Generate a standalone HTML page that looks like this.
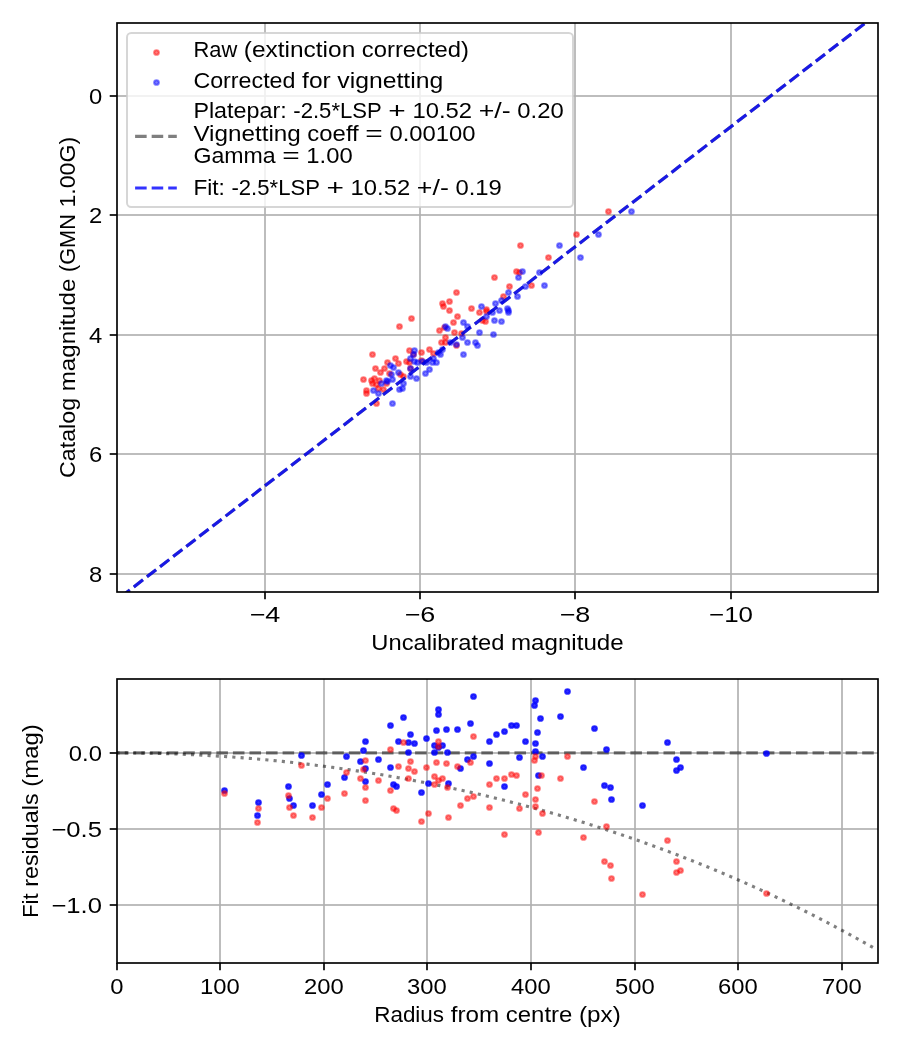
<!DOCTYPE html><html><head><meta charset="utf-8"><style>html,body{margin:0;padding:0;background:#fff;overflow:hidden;width:900px;height:1050px;}svg{display:block;}text{font-family:"Liberation Sans",sans-serif;fill:#000;}svg{will-change:transform;}</style></head><body>
<svg width="900" height="1050" viewBox="0 0 900 1050">
<rect width="900" height="1050" fill="#fff"/>
<defs><clipPath id="ct"><rect x="117.00" y="23.00" width="761.00" height="569.00"/></clipPath>
<clipPath id="cb"><rect x="117.00" y="679.00" width="761.00" height="284.00"/></clipPath></defs>
<line x1="265.00" y1="23.00" x2="265.00" y2="592.00" stroke="#b0b0b0" stroke-width="1.667"/>
<line x1="420.00" y1="23.00" x2="420.00" y2="592.00" stroke="#b0b0b0" stroke-width="1.667"/>
<line x1="575.00" y1="23.00" x2="575.00" y2="592.00" stroke="#b0b0b0" stroke-width="1.667"/>
<line x1="731.00" y1="23.00" x2="731.00" y2="592.00" stroke="#b0b0b0" stroke-width="1.667"/>
<line x1="117.00" y1="96.00" x2="878.00" y2="96.00" stroke="#b0b0b0" stroke-width="2" stroke-opacity="0.8333"/>
<line x1="117.00" y1="215.00" x2="878.00" y2="215.00" stroke="#b0b0b0" stroke-width="2" stroke-opacity="0.8333"/>
<line x1="117.00" y1="335.00" x2="878.00" y2="335.00" stroke="#b0b0b0" stroke-width="2" stroke-opacity="0.8333"/>
<line x1="117.00" y1="454.00" x2="878.00" y2="454.00" stroke="#b0b0b0" stroke-width="2" stroke-opacity="0.8333"/>
<line x1="117.00" y1="574.00" x2="878.00" y2="574.00" stroke="#b0b0b0" stroke-width="2" stroke-opacity="0.8333"/>
<g clip-path="url(#ct)">
<circle cx="411.5" cy="318.5" r="2.33" fill="#ff0000" fill-opacity="0.50" stroke="#ff0000" stroke-opacity="0.50" stroke-width="2.08"/>
<circle cx="399.5" cy="326.5" r="2.33" fill="#ff0000" fill-opacity="0.50" stroke="#ff0000" stroke-opacity="0.50" stroke-width="2.08"/>
<circle cx="442.5" cy="303.5" r="2.33" fill="#ff0000" fill-opacity="0.50" stroke="#ff0000" stroke-opacity="0.50" stroke-width="2.08"/>
<circle cx="449.5" cy="301.5" r="2.33" fill="#ff0000" fill-opacity="0.50" stroke="#ff0000" stroke-opacity="0.50" stroke-width="2.08"/>
<circle cx="443.5" cy="306.5" r="2.33" fill="#ff0000" fill-opacity="0.50" stroke="#ff0000" stroke-opacity="0.50" stroke-width="2.08"/>
<circle cx="449.5" cy="310.5" r="2.33" fill="#ff0000" fill-opacity="0.50" stroke="#ff0000" stroke-opacity="0.50" stroke-width="2.08"/>
<circle cx="457.5" cy="316.5" r="2.33" fill="#ff0000" fill-opacity="0.50" stroke="#ff0000" stroke-opacity="0.50" stroke-width="2.08"/>
<circle cx="453.5" cy="322.5" r="2.33" fill="#ff0000" fill-opacity="0.50" stroke="#ff0000" stroke-opacity="0.50" stroke-width="2.08"/>
<circle cx="439.5" cy="330.5" r="2.33" fill="#ff0000" fill-opacity="0.50" stroke="#ff0000" stroke-opacity="0.50" stroke-width="2.08"/>
<circle cx="454.5" cy="332.5" r="2.33" fill="#ff0000" fill-opacity="0.50" stroke="#ff0000" stroke-opacity="0.50" stroke-width="2.08"/>
<circle cx="445.5" cy="337.5" r="2.33" fill="#ff0000" fill-opacity="0.50" stroke="#ff0000" stroke-opacity="0.50" stroke-width="2.08"/>
<circle cx="441.5" cy="342.5" r="2.33" fill="#ff0000" fill-opacity="0.50" stroke="#ff0000" stroke-opacity="0.50" stroke-width="2.08"/>
<circle cx="445.5" cy="342.5" r="2.33" fill="#ff0000" fill-opacity="0.50" stroke="#ff0000" stroke-opacity="0.50" stroke-width="2.08"/>
<circle cx="456.5" cy="345.5" r="2.33" fill="#ff0000" fill-opacity="0.50" stroke="#ff0000" stroke-opacity="0.50" stroke-width="2.08"/>
<circle cx="429.5" cy="349.5" r="2.33" fill="#ff0000" fill-opacity="0.50" stroke="#ff0000" stroke-opacity="0.50" stroke-width="2.08"/>
<circle cx="421.5" cy="352.5" r="2.33" fill="#ff0000" fill-opacity="0.50" stroke="#ff0000" stroke-opacity="0.50" stroke-width="2.08"/>
<circle cx="409.5" cy="350.5" r="2.33" fill="#ff0000" fill-opacity="0.50" stroke="#ff0000" stroke-opacity="0.50" stroke-width="2.08"/>
<circle cx="372.5" cy="354.5" r="2.33" fill="#ff0000" fill-opacity="0.50" stroke="#ff0000" stroke-opacity="0.50" stroke-width="2.08"/>
<circle cx="395.5" cy="358.5" r="2.33" fill="#ff0000" fill-opacity="0.50" stroke="#ff0000" stroke-opacity="0.50" stroke-width="2.08"/>
<circle cx="398.5" cy="363.5" r="2.33" fill="#ff0000" fill-opacity="0.50" stroke="#ff0000" stroke-opacity="0.50" stroke-width="2.08"/>
<circle cx="387.5" cy="362.5" r="2.33" fill="#ff0000" fill-opacity="0.50" stroke="#ff0000" stroke-opacity="0.50" stroke-width="2.08"/>
<circle cx="406.5" cy="361.5" r="2.33" fill="#ff0000" fill-opacity="0.50" stroke="#ff0000" stroke-opacity="0.50" stroke-width="2.08"/>
<circle cx="409.5" cy="362.5" r="2.33" fill="#ff0000" fill-opacity="0.50" stroke="#ff0000" stroke-opacity="0.50" stroke-width="2.08"/>
<circle cx="375.5" cy="368.5" r="2.33" fill="#ff0000" fill-opacity="0.50" stroke="#ff0000" stroke-opacity="0.50" stroke-width="2.08"/>
<circle cx="384.5" cy="368.5" r="2.33" fill="#ff0000" fill-opacity="0.50" stroke="#ff0000" stroke-opacity="0.50" stroke-width="2.08"/>
<circle cx="380.5" cy="372.5" r="2.33" fill="#ff0000" fill-opacity="0.50" stroke="#ff0000" stroke-opacity="0.50" stroke-width="2.08"/>
<circle cx="389.5" cy="373.5" r="2.33" fill="#ff0000" fill-opacity="0.50" stroke="#ff0000" stroke-opacity="0.50" stroke-width="2.08"/>
<circle cx="400.5" cy="374.5" r="2.33" fill="#ff0000" fill-opacity="0.50" stroke="#ff0000" stroke-opacity="0.50" stroke-width="2.08"/>
<circle cx="363.5" cy="379.5" r="2.33" fill="#ff0000" fill-opacity="0.50" stroke="#ff0000" stroke-opacity="0.50" stroke-width="2.08"/>
<circle cx="371.5" cy="380.5" r="2.33" fill="#ff0000" fill-opacity="0.50" stroke="#ff0000" stroke-opacity="0.50" stroke-width="2.08"/>
<circle cx="374.5" cy="378.5" r="2.33" fill="#ff0000" fill-opacity="0.50" stroke="#ff0000" stroke-opacity="0.50" stroke-width="2.08"/>
<circle cx="379.5" cy="380.5" r="2.33" fill="#ff0000" fill-opacity="0.50" stroke="#ff0000" stroke-opacity="0.50" stroke-width="2.08"/>
<circle cx="386.5" cy="383.5" r="2.33" fill="#ff0000" fill-opacity="0.50" stroke="#ff0000" stroke-opacity="0.50" stroke-width="2.08"/>
<circle cx="376.5" cy="384.5" r="2.33" fill="#ff0000" fill-opacity="0.50" stroke="#ff0000" stroke-opacity="0.50" stroke-width="2.08"/>
<circle cx="366.5" cy="390.5" r="2.33" fill="#ff0000" fill-opacity="0.50" stroke="#ff0000" stroke-opacity="0.50" stroke-width="2.08"/>
<circle cx="366.5" cy="393.5" r="2.33" fill="#ff0000" fill-opacity="0.50" stroke="#ff0000" stroke-opacity="0.50" stroke-width="2.08"/>
<circle cx="378.5" cy="388.5" r="2.33" fill="#ff0000" fill-opacity="0.50" stroke="#ff0000" stroke-opacity="0.50" stroke-width="2.08"/>
<circle cx="383.5" cy="389.5" r="2.33" fill="#ff0000" fill-opacity="0.50" stroke="#ff0000" stroke-opacity="0.50" stroke-width="2.08"/>
<circle cx="376.5" cy="403.5" r="2.33" fill="#ff0000" fill-opacity="0.50" stroke="#ff0000" stroke-opacity="0.50" stroke-width="2.08"/>
<circle cx="413.5" cy="354.5" r="2.33" fill="#ff0000" fill-opacity="0.50" stroke="#ff0000" stroke-opacity="0.50" stroke-width="2.08"/>
<circle cx="520.5" cy="245.5" r="2.33" fill="#ff0000" fill-opacity="0.50" stroke="#ff0000" stroke-opacity="0.50" stroke-width="2.08"/>
<circle cx="548.5" cy="257.5" r="2.33" fill="#ff0000" fill-opacity="0.50" stroke="#ff0000" stroke-opacity="0.50" stroke-width="2.08"/>
<circle cx="516.5" cy="271.5" r="2.33" fill="#ff0000" fill-opacity="0.50" stroke="#ff0000" stroke-opacity="0.50" stroke-width="2.08"/>
<circle cx="519.5" cy="272.5" r="2.33" fill="#ff0000" fill-opacity="0.50" stroke="#ff0000" stroke-opacity="0.50" stroke-width="2.08"/>
<circle cx="494.5" cy="277.5" r="2.33" fill="#ff0000" fill-opacity="0.50" stroke="#ff0000" stroke-opacity="0.50" stroke-width="2.08"/>
<circle cx="509.5" cy="286.5" r="2.33" fill="#ff0000" fill-opacity="0.50" stroke="#ff0000" stroke-opacity="0.50" stroke-width="2.08"/>
<circle cx="531.5" cy="285.5" r="2.33" fill="#ff0000" fill-opacity="0.50" stroke="#ff0000" stroke-opacity="0.50" stroke-width="2.08"/>
<circle cx="456.5" cy="292.5" r="2.33" fill="#ff0000" fill-opacity="0.50" stroke="#ff0000" stroke-opacity="0.50" stroke-width="2.08"/>
<circle cx="503.5" cy="296.5" r="2.33" fill="#ff0000" fill-opacity="0.50" stroke="#ff0000" stroke-opacity="0.50" stroke-width="2.08"/>
<circle cx="471.5" cy="308.5" r="2.33" fill="#ff0000" fill-opacity="0.50" stroke="#ff0000" stroke-opacity="0.50" stroke-width="2.08"/>
<circle cx="479.5" cy="312.5" r="2.33" fill="#ff0000" fill-opacity="0.50" stroke="#ff0000" stroke-opacity="0.50" stroke-width="2.08"/>
<circle cx="486.5" cy="309.5" r="2.33" fill="#ff0000" fill-opacity="0.50" stroke="#ff0000" stroke-opacity="0.50" stroke-width="2.08"/>
<circle cx="482.5" cy="320.5" r="2.33" fill="#ff0000" fill-opacity="0.50" stroke="#ff0000" stroke-opacity="0.50" stroke-width="2.08"/>
<circle cx="485.5" cy="321.5" r="2.33" fill="#ff0000" fill-opacity="0.50" stroke="#ff0000" stroke-opacity="0.50" stroke-width="2.08"/>
<circle cx="608.5" cy="211.5" r="2.33" fill="#ff0000" fill-opacity="0.50" stroke="#ff0000" stroke-opacity="0.50" stroke-width="2.08"/>
<circle cx="576.5" cy="234.5" r="2.33" fill="#ff0000" fill-opacity="0.50" stroke="#ff0000" stroke-opacity="0.50" stroke-width="2.08"/>
<circle cx="372.5" cy="383.5" r="2.33" fill="#ff0000" fill-opacity="0.50" stroke="#ff0000" stroke-opacity="0.50" stroke-width="2.08"/>
<circle cx="403.5" cy="376.5" r="2.33" fill="#ff0000" fill-opacity="0.50" stroke="#ff0000" stroke-opacity="0.50" stroke-width="2.08"/>
<circle cx="433.5" cy="353.5" r="2.33" fill="#ff0000" fill-opacity="0.50" stroke="#ff0000" stroke-opacity="0.50" stroke-width="2.08"/>
<circle cx="421.5" cy="360.5" r="2.33" fill="#ff0000" fill-opacity="0.50" stroke="#ff0000" stroke-opacity="0.50" stroke-width="2.08"/>
<circle cx="410.5" cy="368.5" r="2.33" fill="#ff0000" fill-opacity="0.50" stroke="#ff0000" stroke-opacity="0.50" stroke-width="2.08"/>
<circle cx="444.5" cy="327.5" r="2.33" fill="#ff0000" fill-opacity="0.50" stroke="#ff0000" stroke-opacity="0.50" stroke-width="2.08"/>
<circle cx="461.5" cy="333.5" r="2.33" fill="#ff0000" fill-opacity="0.50" stroke="#ff0000" stroke-opacity="0.50" stroke-width="2.08"/>
<circle cx="486.5" cy="311.5" r="2.33" fill="#ff0000" fill-opacity="0.50" stroke="#ff0000" stroke-opacity="0.50" stroke-width="2.08"/>
<circle cx="445.5" cy="326.5" r="2.33" fill="#0000ff" fill-opacity="0.50" stroke="#0000ff" stroke-opacity="0.50" stroke-width="2.08"/>
<circle cx="447.5" cy="328.5" r="2.33" fill="#0000ff" fill-opacity="0.50" stroke="#0000ff" stroke-opacity="0.50" stroke-width="2.08"/>
<circle cx="456.5" cy="344.5" r="2.33" fill="#0000ff" fill-opacity="0.50" stroke="#0000ff" stroke-opacity="0.50" stroke-width="2.08"/>
<circle cx="450.5" cy="342.5" r="2.33" fill="#0000ff" fill-opacity="0.50" stroke="#0000ff" stroke-opacity="0.50" stroke-width="2.08"/>
<circle cx="442.5" cy="349.5" r="2.33" fill="#0000ff" fill-opacity="0.50" stroke="#0000ff" stroke-opacity="0.50" stroke-width="2.08"/>
<circle cx="438.5" cy="352.5" r="2.33" fill="#0000ff" fill-opacity="0.50" stroke="#0000ff" stroke-opacity="0.50" stroke-width="2.08"/>
<circle cx="440.5" cy="354.5" r="2.33" fill="#0000ff" fill-opacity="0.50" stroke="#0000ff" stroke-opacity="0.50" stroke-width="2.08"/>
<circle cx="436.5" cy="362.5" r="2.33" fill="#0000ff" fill-opacity="0.50" stroke="#0000ff" stroke-opacity="0.50" stroke-width="2.08"/>
<circle cx="432.5" cy="362.5" r="2.33" fill="#0000ff" fill-opacity="0.50" stroke="#0000ff" stroke-opacity="0.50" stroke-width="2.08"/>
<circle cx="433.5" cy="358.5" r="2.33" fill="#0000ff" fill-opacity="0.50" stroke="#0000ff" stroke-opacity="0.50" stroke-width="2.08"/>
<circle cx="426.5" cy="362.5" r="2.33" fill="#0000ff" fill-opacity="0.50" stroke="#0000ff" stroke-opacity="0.50" stroke-width="2.08"/>
<circle cx="429.5" cy="369.5" r="2.33" fill="#0000ff" fill-opacity="0.50" stroke="#0000ff" stroke-opacity="0.50" stroke-width="2.08"/>
<circle cx="425.5" cy="373.5" r="2.33" fill="#0000ff" fill-opacity="0.50" stroke="#0000ff" stroke-opacity="0.50" stroke-width="2.08"/>
<circle cx="414.5" cy="350.5" r="2.33" fill="#0000ff" fill-opacity="0.50" stroke="#0000ff" stroke-opacity="0.50" stroke-width="2.08"/>
<circle cx="413.5" cy="354.5" r="2.33" fill="#0000ff" fill-opacity="0.50" stroke="#0000ff" stroke-opacity="0.50" stroke-width="2.08"/>
<circle cx="410.5" cy="358.5" r="2.33" fill="#0000ff" fill-opacity="0.50" stroke="#0000ff" stroke-opacity="0.50" stroke-width="2.08"/>
<circle cx="414.5" cy="361.5" r="2.33" fill="#0000ff" fill-opacity="0.50" stroke="#0000ff" stroke-opacity="0.50" stroke-width="2.08"/>
<circle cx="417.5" cy="362.5" r="2.33" fill="#0000ff" fill-opacity="0.50" stroke="#0000ff" stroke-opacity="0.50" stroke-width="2.08"/>
<circle cx="422.5" cy="361.5" r="2.33" fill="#0000ff" fill-opacity="0.50" stroke="#0000ff" stroke-opacity="0.50" stroke-width="2.08"/>
<circle cx="410.5" cy="368.5" r="2.33" fill="#0000ff" fill-opacity="0.50" stroke="#0000ff" stroke-opacity="0.50" stroke-width="2.08"/>
<circle cx="410.5" cy="376.5" r="2.33" fill="#0000ff" fill-opacity="0.50" stroke="#0000ff" stroke-opacity="0.50" stroke-width="2.08"/>
<circle cx="416.5" cy="378.5" r="2.33" fill="#0000ff" fill-opacity="0.50" stroke="#0000ff" stroke-opacity="0.50" stroke-width="2.08"/>
<circle cx="390.5" cy="365.5" r="2.33" fill="#0000ff" fill-opacity="0.50" stroke="#0000ff" stroke-opacity="0.50" stroke-width="2.08"/>
<circle cx="393.5" cy="367.5" r="2.33" fill="#0000ff" fill-opacity="0.50" stroke="#0000ff" stroke-opacity="0.50" stroke-width="2.08"/>
<circle cx="398.5" cy="372.5" r="2.33" fill="#0000ff" fill-opacity="0.50" stroke="#0000ff" stroke-opacity="0.50" stroke-width="2.08"/>
<circle cx="391.5" cy="374.5" r="2.33" fill="#0000ff" fill-opacity="0.50" stroke="#0000ff" stroke-opacity="0.50" stroke-width="2.08"/>
<circle cx="392.5" cy="379.5" r="2.33" fill="#0000ff" fill-opacity="0.50" stroke="#0000ff" stroke-opacity="0.50" stroke-width="2.08"/>
<circle cx="386.5" cy="380.5" r="2.33" fill="#0000ff" fill-opacity="0.50" stroke="#0000ff" stroke-opacity="0.50" stroke-width="2.08"/>
<circle cx="381.5" cy="383.5" r="2.33" fill="#0000ff" fill-opacity="0.50" stroke="#0000ff" stroke-opacity="0.50" stroke-width="2.08"/>
<circle cx="403.5" cy="383.5" r="2.33" fill="#0000ff" fill-opacity="0.50" stroke="#0000ff" stroke-opacity="0.50" stroke-width="2.08"/>
<circle cx="399.5" cy="389.5" r="2.33" fill="#0000ff" fill-opacity="0.50" stroke="#0000ff" stroke-opacity="0.50" stroke-width="2.08"/>
<circle cx="402.5" cy="388.5" r="2.33" fill="#0000ff" fill-opacity="0.50" stroke="#0000ff" stroke-opacity="0.50" stroke-width="2.08"/>
<circle cx="373.5" cy="390.5" r="2.33" fill="#0000ff" fill-opacity="0.50" stroke="#0000ff" stroke-opacity="0.50" stroke-width="2.08"/>
<circle cx="378.5" cy="393.5" r="2.33" fill="#0000ff" fill-opacity="0.50" stroke="#0000ff" stroke-opacity="0.50" stroke-width="2.08"/>
<circle cx="392.5" cy="403.5" r="2.33" fill="#0000ff" fill-opacity="0.50" stroke="#0000ff" stroke-opacity="0.50" stroke-width="2.08"/>
<circle cx="559.5" cy="245.5" r="2.33" fill="#0000ff" fill-opacity="0.50" stroke="#0000ff" stroke-opacity="0.50" stroke-width="2.08"/>
<circle cx="522.5" cy="271.5" r="2.33" fill="#0000ff" fill-opacity="0.50" stroke="#0000ff" stroke-opacity="0.50" stroke-width="2.08"/>
<circle cx="518.5" cy="277.5" r="2.33" fill="#0000ff" fill-opacity="0.50" stroke="#0000ff" stroke-opacity="0.50" stroke-width="2.08"/>
<circle cx="539.5" cy="272.5" r="2.33" fill="#0000ff" fill-opacity="0.50" stroke="#0000ff" stroke-opacity="0.50" stroke-width="2.08"/>
<circle cx="544.5" cy="285.5" r="2.33" fill="#0000ff" fill-opacity="0.50" stroke="#0000ff" stroke-opacity="0.50" stroke-width="2.08"/>
<circle cx="525.5" cy="286.5" r="2.33" fill="#0000ff" fill-opacity="0.50" stroke="#0000ff" stroke-opacity="0.50" stroke-width="2.08"/>
<circle cx="508.5" cy="292.5" r="2.33" fill="#0000ff" fill-opacity="0.50" stroke="#0000ff" stroke-opacity="0.50" stroke-width="2.08"/>
<circle cx="517.5" cy="296.5" r="2.33" fill="#0000ff" fill-opacity="0.50" stroke="#0000ff" stroke-opacity="0.50" stroke-width="2.08"/>
<circle cx="501.5" cy="300.5" r="2.33" fill="#0000ff" fill-opacity="0.50" stroke="#0000ff" stroke-opacity="0.50" stroke-width="2.08"/>
<circle cx="495.5" cy="303.5" r="2.33" fill="#0000ff" fill-opacity="0.50" stroke="#0000ff" stroke-opacity="0.50" stroke-width="2.08"/>
<circle cx="481.5" cy="306.5" r="2.33" fill="#0000ff" fill-opacity="0.50" stroke="#0000ff" stroke-opacity="0.50" stroke-width="2.08"/>
<circle cx="499.5" cy="310.5" r="2.33" fill="#0000ff" fill-opacity="0.50" stroke="#0000ff" stroke-opacity="0.50" stroke-width="2.08"/>
<circle cx="507.5" cy="308.5" r="2.33" fill="#0000ff" fill-opacity="0.50" stroke="#0000ff" stroke-opacity="0.50" stroke-width="2.08"/>
<circle cx="508.5" cy="312.5" r="2.33" fill="#0000ff" fill-opacity="0.50" stroke="#0000ff" stroke-opacity="0.50" stroke-width="2.08"/>
<circle cx="492.5" cy="312.5" r="2.33" fill="#0000ff" fill-opacity="0.50" stroke="#0000ff" stroke-opacity="0.50" stroke-width="2.08"/>
<circle cx="486.5" cy="316.5" r="2.33" fill="#0000ff" fill-opacity="0.50" stroke="#0000ff" stroke-opacity="0.50" stroke-width="2.08"/>
<circle cx="494.5" cy="320.5" r="2.33" fill="#0000ff" fill-opacity="0.50" stroke="#0000ff" stroke-opacity="0.50" stroke-width="2.08"/>
<circle cx="501.5" cy="321.5" r="2.33" fill="#0000ff" fill-opacity="0.50" stroke="#0000ff" stroke-opacity="0.50" stroke-width="2.08"/>
<circle cx="463.5" cy="322.5" r="2.33" fill="#0000ff" fill-opacity="0.50" stroke="#0000ff" stroke-opacity="0.50" stroke-width="2.08"/>
<circle cx="467.5" cy="326.5" r="2.33" fill="#0000ff" fill-opacity="0.50" stroke="#0000ff" stroke-opacity="0.50" stroke-width="2.08"/>
<circle cx="479.5" cy="332.5" r="2.33" fill="#0000ff" fill-opacity="0.50" stroke="#0000ff" stroke-opacity="0.50" stroke-width="2.08"/>
<circle cx="493.5" cy="334.5" r="2.33" fill="#0000ff" fill-opacity="0.50" stroke="#0000ff" stroke-opacity="0.50" stroke-width="2.08"/>
<circle cx="462.5" cy="337.5" r="2.33" fill="#0000ff" fill-opacity="0.50" stroke="#0000ff" stroke-opacity="0.50" stroke-width="2.08"/>
<circle cx="631.5" cy="211.5" r="2.33" fill="#0000ff" fill-opacity="0.50" stroke="#0000ff" stroke-opacity="0.50" stroke-width="2.08"/>
<circle cx="598.5" cy="234.5" r="2.33" fill="#0000ff" fill-opacity="0.50" stroke="#0000ff" stroke-opacity="0.50" stroke-width="2.08"/>
<circle cx="580.5" cy="257.5" r="2.33" fill="#0000ff" fill-opacity="0.50" stroke="#0000ff" stroke-opacity="0.50" stroke-width="2.08"/>
<circle cx="467.5" cy="342.5" r="2.33" fill="#0000ff" fill-opacity="0.50" stroke="#0000ff" stroke-opacity="0.50" stroke-width="2.08"/>
<circle cx="475.5" cy="342.5" r="2.33" fill="#0000ff" fill-opacity="0.50" stroke="#0000ff" stroke-opacity="0.50" stroke-width="2.08"/>
<circle cx="477.5" cy="345.5" r="2.33" fill="#0000ff" fill-opacity="0.50" stroke="#0000ff" stroke-opacity="0.50" stroke-width="2.08"/>
<circle cx="463.5" cy="354.5" r="2.33" fill="#0000ff" fill-opacity="0.50" stroke="#0000ff" stroke-opacity="0.50" stroke-width="2.08"/>
<circle cx="387.5" cy="381.5" r="2.33" fill="#0000ff" fill-opacity="0.50" stroke="#0000ff" stroke-opacity="0.50" stroke-width="2.08"/>
<circle cx="508.5" cy="310.5" r="2.33" fill="#0000ff" fill-opacity="0.50" stroke="#0000ff" stroke-opacity="0.50" stroke-width="2.08"/>
<line x1="94.46" y1="617.23" x2="924.32" y2="-22.41" stroke="#000" stroke-opacity="0.5" stroke-width="3.125" stroke-dasharray="11.56 5"/>
<line x1="94.46" y1="617.23" x2="924.32" y2="-22.41" stroke="#0000ff" stroke-opacity="0.8" stroke-width="3.125" stroke-dasharray="11.56 5"/>
</g>
<rect x="117.00" y="23.00" width="761.00" height="569.00" fill="none" stroke="#000" stroke-width="1.667" stroke-linejoin="miter"/>
<line x1="265.00" y1="592.00" x2="265.00" y2="599.29" stroke="#000" stroke-width="1.667"/>
<text x="249.65" y="621.60" font-size="21.80" textLength="30.71" lengthAdjust="spacingAndGlyphs">&#8722;4</text>
<line x1="420.00" y1="592.00" x2="420.00" y2="599.29" stroke="#000" stroke-width="1.667"/>
<text x="404.65" y="621.60" font-size="21.80" textLength="30.71" lengthAdjust="spacingAndGlyphs">&#8722;6</text>
<line x1="575.00" y1="592.00" x2="575.00" y2="599.29" stroke="#000" stroke-width="1.667"/>
<text x="559.65" y="621.60" font-size="21.80" textLength="30.71" lengthAdjust="spacingAndGlyphs">&#8722;8</text>
<line x1="731.00" y1="592.00" x2="731.00" y2="599.29" stroke="#000" stroke-width="1.667"/>
<text x="709.02" y="621.60" font-size="21.80" textLength="43.96" lengthAdjust="spacingAndGlyphs">&#8722;10</text>
<line x1="109.71" y1="96.00" x2="117.00" y2="96.00" stroke="#000" stroke-width="2" stroke-opacity="0.8333"/>
<text x="88.95" y="103.60" font-size="21.80" textLength="13.25" lengthAdjust="spacingAndGlyphs">0</text>
<line x1="109.71" y1="215.00" x2="117.00" y2="215.00" stroke="#000" stroke-width="2" stroke-opacity="0.8333"/>
<text x="88.95" y="222.60" font-size="21.80" textLength="13.25" lengthAdjust="spacingAndGlyphs">2</text>
<line x1="109.71" y1="335.00" x2="117.00" y2="335.00" stroke="#000" stroke-width="2" stroke-opacity="0.8333"/>
<text x="88.95" y="342.60" font-size="21.80" textLength="13.25" lengthAdjust="spacingAndGlyphs">4</text>
<line x1="109.71" y1="454.00" x2="117.00" y2="454.00" stroke="#000" stroke-width="2" stroke-opacity="0.8333"/>
<text x="88.95" y="461.60" font-size="21.80" textLength="13.25" lengthAdjust="spacingAndGlyphs">6</text>
<line x1="109.71" y1="574.00" x2="117.00" y2="574.00" stroke="#000" stroke-width="2" stroke-opacity="0.8333"/>
<text x="88.95" y="581.60" font-size="21.80" textLength="13.25" lengthAdjust="spacingAndGlyphs">8</text>
<text x="371.36" y="649.60" font-size="21.80" textLength="132.99" lengthAdjust="spacingAndGlyphs">Uncalibrated</text>
<text x="510.97" y="649.60" font-size="21.80" textLength="112.67" lengthAdjust="spacingAndGlyphs">magnitude</text>
<g transform="translate(74.90,477.90) rotate(-90)">
<text x="0.00" y="0" font-size="21.80" textLength="79.99" lengthAdjust="spacingAndGlyphs">Catalog</text>
<text x="86.62" y="0" font-size="21.80" textLength="112.67" lengthAdjust="spacingAndGlyphs">magnitude</text>
<text x="205.91" y="0" font-size="21.80" textLength="57.82" lengthAdjust="spacingAndGlyphs">(GMN</text>
<text x="270.35" y="0" font-size="21.80" textLength="70.65" lengthAdjust="spacingAndGlyphs">1.00G)</text>
</g>
<rect x="127" y="33" width="446" height="174" rx="4.17" ry="4.17" fill="#fff" fill-opacity="0.8" stroke="#cccccc" stroke-opacity="0.8" stroke-width="2.0"/>
<circle cx="156.5" cy="52.5" r="2.33" fill="#ff0000" fill-opacity="0.50" stroke="#ff0000" stroke-opacity="0.50" stroke-width="2.08"/>
<circle cx="156.5" cy="82.5" r="2.33" fill="#0000ff" fill-opacity="0.50" stroke="#0000ff" stroke-opacity="0.50" stroke-width="2.08"/>
<line x1="135.1" y1="136.4" x2="176.8" y2="136.4" stroke="#000" stroke-opacity="0.5" stroke-width="3.125" stroke-dasharray="11.56 5"/>
<line x1="135.1" y1="188" x2="176.8" y2="188" stroke="#0000ff" stroke-opacity="0.8" stroke-width="3.125" stroke-dasharray="11.56 5"/>
<text x="193.40" y="57.00" font-size="21.80" textLength="43.82" lengthAdjust="spacingAndGlyphs">Raw</text>
<text x="243.84" y="57.00" font-size="21.80" textLength="111.41" lengthAdjust="spacingAndGlyphs">(extinction</text>
<text x="361.87" y="57.00" font-size="21.80" textLength="107.10" lengthAdjust="spacingAndGlyphs">corrected)</text>
<text x="193.40" y="87.60" font-size="21.80" textLength="102.06" lengthAdjust="spacingAndGlyphs">Corrected</text>
<text x="302.09" y="87.60" font-size="21.80" textLength="28.64" lengthAdjust="spacingAndGlyphs">for</text>
<text x="337.35" y="87.60" font-size="21.80" textLength="105.90" lengthAdjust="spacingAndGlyphs">vignetting</text>
<text x="193.40" y="117.80" font-size="21.80" textLength="93.30" lengthAdjust="spacingAndGlyphs">Platepar:</text>
<text x="293.32" y="117.80" font-size="21.80" textLength="88.45" lengthAdjust="spacingAndGlyphs">-2.5*LSP</text>
<text x="388.39" y="117.80" font-size="21.80" textLength="17.45" lengthAdjust="spacingAndGlyphs">+</text>
<text x="412.46" y="117.80" font-size="21.80" textLength="59.63" lengthAdjust="spacingAndGlyphs">10.52</text>
<text x="478.71" y="117.80" font-size="21.80" textLength="31.99" lengthAdjust="spacingAndGlyphs">+/-</text>
<text x="517.32" y="117.80" font-size="21.80" textLength="46.38" lengthAdjust="spacingAndGlyphs">0.20</text>
<text x="193.40" y="140.50" font-size="21.80" textLength="107.36" lengthAdjust="spacingAndGlyphs">Vignetting</text>
<text x="307.39" y="140.50" font-size="21.80" textLength="51.36" lengthAdjust="spacingAndGlyphs">coeff</text>
<text x="365.37" y="140.50" font-size="21.80" textLength="17.45" lengthAdjust="spacingAndGlyphs">=</text>
<text x="389.44" y="140.50" font-size="21.80" textLength="86.14" lengthAdjust="spacingAndGlyphs">0.00100</text>
<text x="193.40" y="163.00" font-size="21.80" textLength="82.25" lengthAdjust="spacingAndGlyphs">Gamma</text>
<text x="282.27" y="163.00" font-size="21.80" textLength="17.45" lengthAdjust="spacingAndGlyphs">=</text>
<text x="306.35" y="163.00" font-size="21.80" textLength="46.38" lengthAdjust="spacingAndGlyphs">1.00</text>
<text x="193.40" y="194.50" font-size="21.80" textLength="31.44" lengthAdjust="spacingAndGlyphs">Fit:</text>
<text x="231.46" y="194.50" font-size="21.80" textLength="88.45" lengthAdjust="spacingAndGlyphs">-2.5*LSP</text>
<text x="326.53" y="194.50" font-size="21.80" textLength="17.45" lengthAdjust="spacingAndGlyphs">+</text>
<text x="350.60" y="194.50" font-size="21.80" textLength="59.63" lengthAdjust="spacingAndGlyphs">10.52</text>
<text x="416.85" y="194.50" font-size="21.80" textLength="31.99" lengthAdjust="spacingAndGlyphs">+/-</text>
<text x="455.46" y="194.50" font-size="21.80" textLength="46.38" lengthAdjust="spacingAndGlyphs">0.19</text>
<line x1="220.00" y1="679.00" x2="220.00" y2="963.00" stroke="#b0b0b0" stroke-width="1.667"/>
<line x1="324.00" y1="679.00" x2="324.00" y2="963.00" stroke="#b0b0b0" stroke-width="1.667"/>
<line x1="427.00" y1="679.00" x2="427.00" y2="963.00" stroke="#b0b0b0" stroke-width="1.667"/>
<line x1="531.00" y1="679.00" x2="531.00" y2="963.00" stroke="#b0b0b0" stroke-width="1.667"/>
<line x1="635.00" y1="679.00" x2="635.00" y2="963.00" stroke="#b0b0b0" stroke-width="1.667"/>
<line x1="738.00" y1="679.00" x2="738.00" y2="963.00" stroke="#b0b0b0" stroke-width="1.667"/>
<line x1="842.00" y1="679.00" x2="842.00" y2="963.00" stroke="#b0b0b0" stroke-width="1.667"/>
<line x1="117.00" y1="753.00" x2="878.00" y2="753.00" stroke="#b0b0b0" stroke-width="2" stroke-opacity="0.8333"/>
<line x1="117.00" y1="829.00" x2="878.00" y2="829.00" stroke="#b0b0b0" stroke-width="2" stroke-opacity="0.8333"/>
<line x1="117.00" y1="905.00" x2="878.00" y2="905.00" stroke="#b0b0b0" stroke-width="2" stroke-opacity="0.8333"/>
<g clip-path="url(#cb)">
<line x1="117.00" y1="752.90" x2="878.00" y2="752.90" stroke="#000" stroke-opacity="0.5" stroke-width="3.125" stroke-dasharray="11.56 5"/>
<polyline points="116.60,752.90 118.67,752.90 120.75,752.91 122.82,752.91 124.89,752.92 126.96,752.93 129.04,752.95 131.11,752.96 133.18,752.98 135.25,753.01 137.33,753.03 139.40,753.06 141.47,753.09 143.54,753.12 145.62,753.16 147.69,753.20 149.76,753.24 151.83,753.28 153.91,753.33 155.98,753.38 158.05,753.43 160.12,753.48 162.20,753.54 164.27,753.60 166.34,753.66 168.41,753.73 170.49,753.80 172.56,753.87 174.63,753.94 176.70,754.01 178.78,754.09 180.85,754.17 182.92,754.26 185.00,754.34 187.07,754.43 189.14,754.52 191.21,754.62 193.29,754.71 195.36,754.81 197.43,754.92 199.50,755.02 201.58,755.13 203.65,755.24 205.72,755.35 207.79,755.47 209.87,755.58 211.94,755.70 214.01,755.83 216.08,755.95 218.16,756.08 220.23,756.21 222.30,756.35 224.37,756.49 226.45,756.63 228.52,756.77 230.59,756.91 232.66,757.06 234.74,757.21 236.81,757.36 238.88,757.52 240.95,757.68 243.03,757.84 245.10,758.00 247.17,758.17 249.25,758.34 251.32,758.51 253.39,758.68 255.46,758.86 257.54,759.04 259.61,759.22 261.68,759.41 263.75,759.60 265.83,759.79 267.90,759.98 269.97,760.18 272.04,760.37 274.12,760.58 276.19,760.78 278.26,760.99 280.33,761.20 282.41,761.41 284.48,761.62 286.55,761.84 288.62,762.06 290.70,762.28 292.77,762.51 294.84,762.74 296.91,762.97 298.99,763.20 301.06,763.44 303.13,763.68 305.20,763.92 307.28,764.17 309.35,764.42 311.42,764.67 313.50,764.92 315.57,765.18 317.64,765.43 319.71,765.70 321.79,765.96 323.86,766.23 325.93,766.50 328.00,766.77 330.08,767.04 332.15,767.32 334.22,767.60 336.29,767.89 338.37,768.17 340.44,768.46 342.51,768.75 344.58,769.05 346.66,769.35 348.73,769.65 350.80,769.95 352.87,770.25 354.95,770.56 357.02,770.87 359.09,771.19 361.16,771.51 363.24,771.83 365.31,772.15 367.38,772.47 369.45,772.80 371.53,773.13 373.60,773.47 375.67,773.80 377.75,774.14 379.82,774.48 381.89,774.83 383.96,775.18 386.04,775.53 388.11,775.88 390.18,776.24 392.25,776.60 394.33,776.96 396.40,777.32 398.47,777.69 400.54,778.06 402.62,778.44 404.69,778.81 406.76,779.19 408.83,779.57 410.91,779.96 412.98,780.35 415.05,780.74 417.12,781.13 419.20,781.53 421.27,781.93 423.34,782.33 425.41,782.73 427.49,783.14 429.56,783.55 431.63,783.97 433.70,784.38 435.78,784.80 437.85,785.23 439.92,785.65 442.00,786.08 444.07,786.51 446.14,786.94 448.21,787.38 450.29,787.82 452.36,788.27 454.43,788.71 456.50,789.16 458.58,789.61 460.65,790.07 462.72,790.53 464.79,790.99 466.87,791.45 468.94,791.92 471.01,792.39 473.08,792.86 475.16,793.33 477.23,793.81 479.30,794.29 481.37,794.78 483.45,795.27 485.52,795.76 487.59,796.25 489.66,796.75 491.74,797.25 493.81,797.75 495.88,798.26 497.95,798.77 500.03,799.28 502.10,799.79 504.17,800.31 506.25,800.83 508.32,801.36 510.39,801.88 512.46,802.41 514.54,802.95 516.61,803.48 518.68,804.02 520.75,804.57 522.83,805.11 524.90,805.66 526.97,806.21 529.04,806.77 531.12,807.32 533.19,807.89 535.26,808.45 537.33,809.02 539.41,809.59 541.48,810.16 543.55,810.74 545.62,811.32 547.70,811.90 549.77,812.49 551.84,813.08 553.91,813.67 555.99,814.27 558.06,814.87 560.13,815.47 562.20,816.07 564.28,816.68 566.35,817.29 568.42,817.91 570.50,818.53 572.57,819.15 574.64,819.77 576.71,820.40 578.79,821.03 580.86,821.67 582.93,822.31 585.00,822.95 587.08,823.59 589.15,824.24 591.22,824.89 593.29,825.54 595.37,826.20 597.44,826.86 599.51,827.53 601.58,828.19 603.66,828.86 605.73,829.54 607.80,830.22 609.87,830.90 611.95,831.58 614.02,832.27 616.09,832.96 618.16,833.65 620.24,834.35 622.31,835.05 624.38,835.76 626.45,836.46 628.53,837.18 630.60,837.89 632.67,838.61 634.75,839.33 636.82,840.05 638.89,840.78 640.96,841.51 643.04,842.25 645.11,842.99 647.18,843.73 649.25,844.48 651.33,845.23 653.40,845.98 655.47,846.73 657.54,847.49 659.62,848.26 661.69,849.02 663.76,849.79 665.83,850.57 667.91,851.34 669.98,852.13 672.05,852.91 674.12,853.70 676.20,854.49 678.27,855.29 680.34,856.08 682.41,856.89 684.49,857.69 686.56,858.50 688.63,859.32 690.70,860.13 692.78,860.95 694.85,861.78 696.92,862.61 698.99,863.44 701.07,864.27 703.14,865.11 705.21,865.96 707.29,866.80 709.36,867.65 711.43,868.51 713.50,869.36 715.58,870.23 717.65,871.09 719.72,871.96 721.79,872.83 723.87,873.71 725.94,874.59 728.01,875.48 730.08,876.36 732.16,877.26 734.23,878.15 736.30,879.05 738.37,879.95 740.45,880.86 742.52,881.77 744.59,882.69 746.66,883.61 748.74,884.53 750.81,885.46 752.88,886.39 754.95,887.33 757.03,888.26 759.10,889.21 761.17,890.15 763.24,891.11 765.32,892.06 767.39,893.02 769.46,893.98 771.54,894.95 773.61,895.92 775.68,896.90 777.75,897.88 779.83,898.86 781.90,899.85 783.97,900.84 786.04,901.83 788.12,902.83 790.19,903.84 792.26,904.85 794.33,905.86 796.41,906.88 798.48,907.90 800.55,908.92 802.62,909.95 804.70,910.99 806.77,912.02 808.84,913.07 810.91,914.11 812.99,915.16 815.06,916.22 817.13,917.28 819.20,918.34 821.28,919.41 823.35,920.48 825.42,921.56 827.49,922.64 829.57,923.73 831.64,924.82 833.71,925.91 835.79,927.01 837.86,928.12 839.93,929.22 842.00,930.34 844.08,931.45 846.15,932.58 848.22,933.70 850.29,934.83 852.37,935.97 854.44,937.11 856.51,938.25 858.58,939.40 860.66,940.56 862.73,941.72 864.80,942.88 866.87,944.05 868.95,945.22 871.02,946.40 873.09,947.58 875.16,948.77 877.24,949.96" fill="none" stroke="#000" stroke-opacity="0.5" stroke-width="3.125" stroke-dasharray="3.125 5.156" stroke-dashoffset="0.13"/>
<circle cx="301.5" cy="755.5" r="2.33" fill="#0000ff" fill-opacity="0.80" stroke="#0000ff" stroke-opacity="0.80" stroke-width="2.08"/>
<circle cx="224.5" cy="790.5" r="2.33" fill="#0000ff" fill-opacity="0.80" stroke="#0000ff" stroke-opacity="0.80" stroke-width="2.08"/>
<circle cx="258.5" cy="802.5" r="2.33" fill="#0000ff" fill-opacity="0.80" stroke="#0000ff" stroke-opacity="0.80" stroke-width="2.08"/>
<circle cx="257.5" cy="815.5" r="2.33" fill="#0000ff" fill-opacity="0.80" stroke="#0000ff" stroke-opacity="0.80" stroke-width="2.08"/>
<circle cx="288.5" cy="786.5" r="2.33" fill="#0000ff" fill-opacity="0.80" stroke="#0000ff" stroke-opacity="0.80" stroke-width="2.08"/>
<circle cx="289.5" cy="798.5" r="2.33" fill="#0000ff" fill-opacity="0.80" stroke="#0000ff" stroke-opacity="0.80" stroke-width="2.08"/>
<circle cx="293.5" cy="805.5" r="2.33" fill="#0000ff" fill-opacity="0.80" stroke="#0000ff" stroke-opacity="0.80" stroke-width="2.08"/>
<circle cx="312.5" cy="805.5" r="2.33" fill="#0000ff" fill-opacity="0.80" stroke="#0000ff" stroke-opacity="0.80" stroke-width="2.08"/>
<circle cx="403.5" cy="717.5" r="2.33" fill="#0000ff" fill-opacity="0.80" stroke="#0000ff" stroke-opacity="0.80" stroke-width="2.08"/>
<circle cx="390.5" cy="725.5" r="2.33" fill="#0000ff" fill-opacity="0.80" stroke="#0000ff" stroke-opacity="0.80" stroke-width="2.08"/>
<circle cx="410.5" cy="734.5" r="2.33" fill="#0000ff" fill-opacity="0.80" stroke="#0000ff" stroke-opacity="0.80" stroke-width="2.08"/>
<circle cx="426.5" cy="738.5" r="2.33" fill="#0000ff" fill-opacity="0.80" stroke="#0000ff" stroke-opacity="0.80" stroke-width="2.08"/>
<circle cx="365.5" cy="741.5" r="2.33" fill="#0000ff" fill-opacity="0.80" stroke="#0000ff" stroke-opacity="0.80" stroke-width="2.08"/>
<circle cx="398.5" cy="741.5" r="2.33" fill="#0000ff" fill-opacity="0.80" stroke="#0000ff" stroke-opacity="0.80" stroke-width="2.08"/>
<circle cx="408.5" cy="742.5" r="2.33" fill="#0000ff" fill-opacity="0.80" stroke="#0000ff" stroke-opacity="0.80" stroke-width="2.08"/>
<circle cx="414.5" cy="743.5" r="2.33" fill="#0000ff" fill-opacity="0.80" stroke="#0000ff" stroke-opacity="0.80" stroke-width="2.08"/>
<circle cx="363.5" cy="750.5" r="2.33" fill="#0000ff" fill-opacity="0.80" stroke="#0000ff" stroke-opacity="0.80" stroke-width="2.08"/>
<circle cx="408.5" cy="752.5" r="2.33" fill="#0000ff" fill-opacity="0.80" stroke="#0000ff" stroke-opacity="0.80" stroke-width="2.08"/>
<circle cx="346.5" cy="756.5" r="2.33" fill="#0000ff" fill-opacity="0.80" stroke="#0000ff" stroke-opacity="0.80" stroke-width="2.08"/>
<circle cx="360.5" cy="761.5" r="2.33" fill="#0000ff" fill-opacity="0.80" stroke="#0000ff" stroke-opacity="0.80" stroke-width="2.08"/>
<circle cx="378.5" cy="759.5" r="2.33" fill="#0000ff" fill-opacity="0.80" stroke="#0000ff" stroke-opacity="0.80" stroke-width="2.08"/>
<circle cx="390.5" cy="767.5" r="2.33" fill="#0000ff" fill-opacity="0.80" stroke="#0000ff" stroke-opacity="0.80" stroke-width="2.08"/>
<circle cx="365.5" cy="768.5" r="2.33" fill="#0000ff" fill-opacity="0.80" stroke="#0000ff" stroke-opacity="0.80" stroke-width="2.08"/>
<circle cx="344.5" cy="777.5" r="2.33" fill="#0000ff" fill-opacity="0.80" stroke="#0000ff" stroke-opacity="0.80" stroke-width="2.08"/>
<circle cx="365.5" cy="781.5" r="2.33" fill="#0000ff" fill-opacity="0.80" stroke="#0000ff" stroke-opacity="0.80" stroke-width="2.08"/>
<circle cx="327.5" cy="784.5" r="2.33" fill="#0000ff" fill-opacity="0.80" stroke="#0000ff" stroke-opacity="0.80" stroke-width="2.08"/>
<circle cx="321.5" cy="794.5" r="2.33" fill="#0000ff" fill-opacity="0.80" stroke="#0000ff" stroke-opacity="0.80" stroke-width="2.08"/>
<circle cx="393.5" cy="784.5" r="2.33" fill="#0000ff" fill-opacity="0.80" stroke="#0000ff" stroke-opacity="0.80" stroke-width="2.08"/>
<circle cx="396.5" cy="786.5" r="2.33" fill="#0000ff" fill-opacity="0.80" stroke="#0000ff" stroke-opacity="0.80" stroke-width="2.08"/>
<circle cx="421.5" cy="792.5" r="2.33" fill="#0000ff" fill-opacity="0.80" stroke="#0000ff" stroke-opacity="0.80" stroke-width="2.08"/>
<circle cx="428.5" cy="783.5" r="2.33" fill="#0000ff" fill-opacity="0.80" stroke="#0000ff" stroke-opacity="0.80" stroke-width="2.08"/>
<circle cx="473.5" cy="696.5" r="2.33" fill="#0000ff" fill-opacity="0.80" stroke="#0000ff" stroke-opacity="0.80" stroke-width="2.08"/>
<circle cx="438.5" cy="709.5" r="2.33" fill="#0000ff" fill-opacity="0.80" stroke="#0000ff" stroke-opacity="0.80" stroke-width="2.08"/>
<circle cx="438.5" cy="714.5" r="2.33" fill="#0000ff" fill-opacity="0.80" stroke="#0000ff" stroke-opacity="0.80" stroke-width="2.08"/>
<circle cx="470.5" cy="723.5" r="2.33" fill="#0000ff" fill-opacity="0.80" stroke="#0000ff" stroke-opacity="0.80" stroke-width="2.08"/>
<circle cx="436.5" cy="730.5" r="2.33" fill="#0000ff" fill-opacity="0.80" stroke="#0000ff" stroke-opacity="0.80" stroke-width="2.08"/>
<circle cx="446.5" cy="729.5" r="2.33" fill="#0000ff" fill-opacity="0.80" stroke="#0000ff" stroke-opacity="0.80" stroke-width="2.08"/>
<circle cx="457.5" cy="729.5" r="2.33" fill="#0000ff" fill-opacity="0.80" stroke="#0000ff" stroke-opacity="0.80" stroke-width="2.08"/>
<circle cx="434.5" cy="745.5" r="2.33" fill="#0000ff" fill-opacity="0.80" stroke="#0000ff" stroke-opacity="0.80" stroke-width="2.08"/>
<circle cx="438.5" cy="747.5" r="2.33" fill="#0000ff" fill-opacity="0.80" stroke="#0000ff" stroke-opacity="0.80" stroke-width="2.08"/>
<circle cx="442.5" cy="745.5" r="2.33" fill="#0000ff" fill-opacity="0.80" stroke="#0000ff" stroke-opacity="0.80" stroke-width="2.08"/>
<circle cx="434.5" cy="752.5" r="2.33" fill="#0000ff" fill-opacity="0.80" stroke="#0000ff" stroke-opacity="0.80" stroke-width="2.08"/>
<circle cx="447.5" cy="752.5" r="2.33" fill="#0000ff" fill-opacity="0.80" stroke="#0000ff" stroke-opacity="0.80" stroke-width="2.08"/>
<circle cx="467.5" cy="759.5" r="2.33" fill="#0000ff" fill-opacity="0.80" stroke="#0000ff" stroke-opacity="0.80" stroke-width="2.08"/>
<circle cx="473.5" cy="756.5" r="2.33" fill="#0000ff" fill-opacity="0.80" stroke="#0000ff" stroke-opacity="0.80" stroke-width="2.08"/>
<circle cx="460.5" cy="768.5" r="2.33" fill="#0000ff" fill-opacity="0.80" stroke="#0000ff" stroke-opacity="0.80" stroke-width="2.08"/>
<circle cx="489.5" cy="741.5" r="2.33" fill="#0000ff" fill-opacity="0.80" stroke="#0000ff" stroke-opacity="0.80" stroke-width="2.08"/>
<circle cx="496.5" cy="734.5" r="2.33" fill="#0000ff" fill-opacity="0.80" stroke="#0000ff" stroke-opacity="0.80" stroke-width="2.08"/>
<circle cx="504.5" cy="731.5" r="2.33" fill="#0000ff" fill-opacity="0.80" stroke="#0000ff" stroke-opacity="0.80" stroke-width="2.08"/>
<circle cx="511.5" cy="725.5" r="2.33" fill="#0000ff" fill-opacity="0.80" stroke="#0000ff" stroke-opacity="0.80" stroke-width="2.08"/>
<circle cx="516.5" cy="725.5" r="2.33" fill="#0000ff" fill-opacity="0.80" stroke="#0000ff" stroke-opacity="0.80" stroke-width="2.08"/>
<circle cx="525.5" cy="741.5" r="2.33" fill="#0000ff" fill-opacity="0.80" stroke="#0000ff" stroke-opacity="0.80" stroke-width="2.08"/>
<circle cx="489.5" cy="763.5" r="2.33" fill="#0000ff" fill-opacity="0.80" stroke="#0000ff" stroke-opacity="0.80" stroke-width="2.08"/>
<circle cx="519.5" cy="757.5" r="2.33" fill="#0000ff" fill-opacity="0.80" stroke="#0000ff" stroke-opacity="0.80" stroke-width="2.08"/>
<circle cx="535.5" cy="700.5" r="2.33" fill="#0000ff" fill-opacity="0.80" stroke="#0000ff" stroke-opacity="0.80" stroke-width="2.08"/>
<circle cx="534.5" cy="705.5" r="2.33" fill="#0000ff" fill-opacity="0.80" stroke="#0000ff" stroke-opacity="0.80" stroke-width="2.08"/>
<circle cx="540.5" cy="718.5" r="2.33" fill="#0000ff" fill-opacity="0.80" stroke="#0000ff" stroke-opacity="0.80" stroke-width="2.08"/>
<circle cx="537.5" cy="732.5" r="2.33" fill="#0000ff" fill-opacity="0.80" stroke="#0000ff" stroke-opacity="0.80" stroke-width="2.08"/>
<circle cx="535.5" cy="743.5" r="2.33" fill="#0000ff" fill-opacity="0.80" stroke="#0000ff" stroke-opacity="0.80" stroke-width="2.08"/>
<circle cx="535.5" cy="751.5" r="2.33" fill="#0000ff" fill-opacity="0.80" stroke="#0000ff" stroke-opacity="0.80" stroke-width="2.08"/>
<circle cx="538.5" cy="775.5" r="2.33" fill="#0000ff" fill-opacity="0.80" stroke="#0000ff" stroke-opacity="0.80" stroke-width="2.08"/>
<circle cx="448.5" cy="783.5" r="2.33" fill="#0000ff" fill-opacity="0.80" stroke="#0000ff" stroke-opacity="0.80" stroke-width="2.08"/>
<circle cx="504.5" cy="786.5" r="2.33" fill="#0000ff" fill-opacity="0.80" stroke="#0000ff" stroke-opacity="0.80" stroke-width="2.08"/>
<circle cx="567.5" cy="691.5" r="2.33" fill="#0000ff" fill-opacity="0.80" stroke="#0000ff" stroke-opacity="0.80" stroke-width="2.08"/>
<circle cx="560.5" cy="716.5" r="2.33" fill="#0000ff" fill-opacity="0.80" stroke="#0000ff" stroke-opacity="0.80" stroke-width="2.08"/>
<circle cx="594.5" cy="728.5" r="2.33" fill="#0000ff" fill-opacity="0.80" stroke="#0000ff" stroke-opacity="0.80" stroke-width="2.08"/>
<circle cx="606.5" cy="749.5" r="2.33" fill="#0000ff" fill-opacity="0.80" stroke="#0000ff" stroke-opacity="0.80" stroke-width="2.08"/>
<circle cx="542.5" cy="756.5" r="2.33" fill="#0000ff" fill-opacity="0.80" stroke="#0000ff" stroke-opacity="0.80" stroke-width="2.08"/>
<circle cx="583.5" cy="767.5" r="2.33" fill="#0000ff" fill-opacity="0.80" stroke="#0000ff" stroke-opacity="0.80" stroke-width="2.08"/>
<circle cx="604.5" cy="785.5" r="2.33" fill="#0000ff" fill-opacity="0.80" stroke="#0000ff" stroke-opacity="0.80" stroke-width="2.08"/>
<circle cx="610.5" cy="787.5" r="2.33" fill="#0000ff" fill-opacity="0.80" stroke="#0000ff" stroke-opacity="0.80" stroke-width="2.08"/>
<circle cx="611.5" cy="799.5" r="2.33" fill="#0000ff" fill-opacity="0.80" stroke="#0000ff" stroke-opacity="0.80" stroke-width="2.08"/>
<circle cx="642.5" cy="805.5" r="2.33" fill="#0000ff" fill-opacity="0.80" stroke="#0000ff" stroke-opacity="0.80" stroke-width="2.08"/>
<circle cx="667.5" cy="742.5" r="2.33" fill="#0000ff" fill-opacity="0.80" stroke="#0000ff" stroke-opacity="0.80" stroke-width="2.08"/>
<circle cx="676.5" cy="759.5" r="2.33" fill="#0000ff" fill-opacity="0.80" stroke="#0000ff" stroke-opacity="0.80" stroke-width="2.08"/>
<circle cx="680.5" cy="767.5" r="2.33" fill="#0000ff" fill-opacity="0.80" stroke="#0000ff" stroke-opacity="0.80" stroke-width="2.08"/>
<circle cx="676.5" cy="770.5" r="2.33" fill="#0000ff" fill-opacity="0.80" stroke="#0000ff" stroke-opacity="0.80" stroke-width="2.08"/>
<circle cx="766.5" cy="753.5" r="2.33" fill="#0000ff" fill-opacity="0.80" stroke="#0000ff" stroke-opacity="0.80" stroke-width="2.08"/>
<circle cx="301.5" cy="765.5" r="2.33" fill="#ff0000" fill-opacity="0.50" stroke="#ff0000" stroke-opacity="0.50" stroke-width="2.08"/>
<circle cx="224.5" cy="793.5" r="2.33" fill="#ff0000" fill-opacity="0.50" stroke="#ff0000" stroke-opacity="0.50" stroke-width="2.08"/>
<circle cx="258.5" cy="808.5" r="2.33" fill="#ff0000" fill-opacity="0.50" stroke="#ff0000" stroke-opacity="0.50" stroke-width="2.08"/>
<circle cx="257.5" cy="822.5" r="2.33" fill="#ff0000" fill-opacity="0.50" stroke="#ff0000" stroke-opacity="0.50" stroke-width="2.08"/>
<circle cx="288.5" cy="795.5" r="2.33" fill="#ff0000" fill-opacity="0.50" stroke="#ff0000" stroke-opacity="0.50" stroke-width="2.08"/>
<circle cx="289.5" cy="807.5" r="2.33" fill="#ff0000" fill-opacity="0.50" stroke="#ff0000" stroke-opacity="0.50" stroke-width="2.08"/>
<circle cx="293.5" cy="815.5" r="2.33" fill="#ff0000" fill-opacity="0.50" stroke="#ff0000" stroke-opacity="0.50" stroke-width="2.08"/>
<circle cx="312.5" cy="817.5" r="2.33" fill="#ff0000" fill-opacity="0.50" stroke="#ff0000" stroke-opacity="0.50" stroke-width="2.08"/>
<circle cx="403.5" cy="742.5" r="2.33" fill="#ff0000" fill-opacity="0.50" stroke="#ff0000" stroke-opacity="0.50" stroke-width="2.08"/>
<circle cx="390.5" cy="749.5" r="2.33" fill="#ff0000" fill-opacity="0.50" stroke="#ff0000" stroke-opacity="0.50" stroke-width="2.08"/>
<circle cx="365.5" cy="760.5" r="2.33" fill="#ff0000" fill-opacity="0.50" stroke="#ff0000" stroke-opacity="0.50" stroke-width="2.08"/>
<circle cx="410.5" cy="761.5" r="2.33" fill="#ff0000" fill-opacity="0.50" stroke="#ff0000" stroke-opacity="0.50" stroke-width="2.08"/>
<circle cx="398.5" cy="766.5" r="2.33" fill="#ff0000" fill-opacity="0.50" stroke="#ff0000" stroke-opacity="0.50" stroke-width="2.08"/>
<circle cx="408.5" cy="768.5" r="2.33" fill="#ff0000" fill-opacity="0.50" stroke="#ff0000" stroke-opacity="0.50" stroke-width="2.08"/>
<circle cx="414.5" cy="771.5" r="2.33" fill="#ff0000" fill-opacity="0.50" stroke="#ff0000" stroke-opacity="0.50" stroke-width="2.08"/>
<circle cx="426.5" cy="767.5" r="2.33" fill="#ff0000" fill-opacity="0.50" stroke="#ff0000" stroke-opacity="0.50" stroke-width="2.08"/>
<circle cx="363.5" cy="769.5" r="2.33" fill="#ff0000" fill-opacity="0.50" stroke="#ff0000" stroke-opacity="0.50" stroke-width="2.08"/>
<circle cx="346.5" cy="772.5" r="2.33" fill="#ff0000" fill-opacity="0.50" stroke="#ff0000" stroke-opacity="0.50" stroke-width="2.08"/>
<circle cx="360.5" cy="778.5" r="2.33" fill="#ff0000" fill-opacity="0.50" stroke="#ff0000" stroke-opacity="0.50" stroke-width="2.08"/>
<circle cx="378.5" cy="780.5" r="2.33" fill="#ff0000" fill-opacity="0.50" stroke="#ff0000" stroke-opacity="0.50" stroke-width="2.08"/>
<circle cx="408.5" cy="778.5" r="2.33" fill="#ff0000" fill-opacity="0.50" stroke="#ff0000" stroke-opacity="0.50" stroke-width="2.08"/>
<circle cx="327.5" cy="798.5" r="2.33" fill="#ff0000" fill-opacity="0.50" stroke="#ff0000" stroke-opacity="0.50" stroke-width="2.08"/>
<circle cx="321.5" cy="807.5" r="2.33" fill="#ff0000" fill-opacity="0.50" stroke="#ff0000" stroke-opacity="0.50" stroke-width="2.08"/>
<circle cx="344.5" cy="793.5" r="2.33" fill="#ff0000" fill-opacity="0.50" stroke="#ff0000" stroke-opacity="0.50" stroke-width="2.08"/>
<circle cx="365.5" cy="787.5" r="2.33" fill="#ff0000" fill-opacity="0.50" stroke="#ff0000" stroke-opacity="0.50" stroke-width="2.08"/>
<circle cx="365.5" cy="800.5" r="2.33" fill="#ff0000" fill-opacity="0.50" stroke="#ff0000" stroke-opacity="0.50" stroke-width="2.08"/>
<circle cx="390.5" cy="790.5" r="2.33" fill="#ff0000" fill-opacity="0.50" stroke="#ff0000" stroke-opacity="0.50" stroke-width="2.08"/>
<circle cx="393.5" cy="808.5" r="2.33" fill="#ff0000" fill-opacity="0.50" stroke="#ff0000" stroke-opacity="0.50" stroke-width="2.08"/>
<circle cx="396.5" cy="810.5" r="2.33" fill="#ff0000" fill-opacity="0.50" stroke="#ff0000" stroke-opacity="0.50" stroke-width="2.08"/>
<circle cx="421.5" cy="821.5" r="2.33" fill="#ff0000" fill-opacity="0.50" stroke="#ff0000" stroke-opacity="0.50" stroke-width="2.08"/>
<circle cx="428.5" cy="813.5" r="2.33" fill="#ff0000" fill-opacity="0.50" stroke="#ff0000" stroke-opacity="0.50" stroke-width="2.08"/>
<circle cx="473.5" cy="736.5" r="2.33" fill="#ff0000" fill-opacity="0.50" stroke="#ff0000" stroke-opacity="0.50" stroke-width="2.08"/>
<circle cx="438.5" cy="741.5" r="2.33" fill="#ff0000" fill-opacity="0.50" stroke="#ff0000" stroke-opacity="0.50" stroke-width="2.08"/>
<circle cx="438.5" cy="746.5" r="2.33" fill="#ff0000" fill-opacity="0.50" stroke="#ff0000" stroke-opacity="0.50" stroke-width="2.08"/>
<circle cx="436.5" cy="762.5" r="2.33" fill="#ff0000" fill-opacity="0.50" stroke="#ff0000" stroke-opacity="0.50" stroke-width="2.08"/>
<circle cx="446.5" cy="763.5" r="2.33" fill="#ff0000" fill-opacity="0.50" stroke="#ff0000" stroke-opacity="0.50" stroke-width="2.08"/>
<circle cx="457.5" cy="766.5" r="2.33" fill="#ff0000" fill-opacity="0.50" stroke="#ff0000" stroke-opacity="0.50" stroke-width="2.08"/>
<circle cx="470.5" cy="762.5" r="2.33" fill="#ff0000" fill-opacity="0.50" stroke="#ff0000" stroke-opacity="0.50" stroke-width="2.08"/>
<circle cx="434.5" cy="776.5" r="2.33" fill="#ff0000" fill-opacity="0.50" stroke="#ff0000" stroke-opacity="0.50" stroke-width="2.08"/>
<circle cx="442.5" cy="778.5" r="2.33" fill="#ff0000" fill-opacity="0.50" stroke="#ff0000" stroke-opacity="0.50" stroke-width="2.08"/>
<circle cx="511.5" cy="774.5" r="2.33" fill="#ff0000" fill-opacity="0.50" stroke="#ff0000" stroke-opacity="0.50" stroke-width="2.08"/>
<circle cx="516.5" cy="775.5" r="2.33" fill="#ff0000" fill-opacity="0.50" stroke="#ff0000" stroke-opacity="0.50" stroke-width="2.08"/>
<circle cx="496.5" cy="778.5" r="2.33" fill="#ff0000" fill-opacity="0.50" stroke="#ff0000" stroke-opacity="0.50" stroke-width="2.08"/>
<circle cx="504.5" cy="778.5" r="2.33" fill="#ff0000" fill-opacity="0.50" stroke="#ff0000" stroke-opacity="0.50" stroke-width="2.08"/>
<circle cx="535.5" cy="756.5" r="2.33" fill="#ff0000" fill-opacity="0.50" stroke="#ff0000" stroke-opacity="0.50" stroke-width="2.08"/>
<circle cx="534.5" cy="760.5" r="2.33" fill="#ff0000" fill-opacity="0.50" stroke="#ff0000" stroke-opacity="0.50" stroke-width="2.08"/>
<circle cx="438.5" cy="780.5" r="2.33" fill="#ff0000" fill-opacity="0.50" stroke="#ff0000" stroke-opacity="0.50" stroke-width="2.08"/>
<circle cx="434.5" cy="784.5" r="2.33" fill="#ff0000" fill-opacity="0.50" stroke="#ff0000" stroke-opacity="0.50" stroke-width="2.08"/>
<circle cx="447.5" cy="787.5" r="2.33" fill="#ff0000" fill-opacity="0.50" stroke="#ff0000" stroke-opacity="0.50" stroke-width="2.08"/>
<circle cx="489.5" cy="784.5" r="2.33" fill="#ff0000" fill-opacity="0.50" stroke="#ff0000" stroke-opacity="0.50" stroke-width="2.08"/>
<circle cx="525.5" cy="794.5" r="2.33" fill="#ff0000" fill-opacity="0.50" stroke="#ff0000" stroke-opacity="0.50" stroke-width="2.08"/>
<circle cx="537.5" cy="788.5" r="2.33" fill="#ff0000" fill-opacity="0.50" stroke="#ff0000" stroke-opacity="0.50" stroke-width="2.08"/>
<circle cx="535.5" cy="799.5" r="2.33" fill="#ff0000" fill-opacity="0.50" stroke="#ff0000" stroke-opacity="0.50" stroke-width="2.08"/>
<circle cx="535.5" cy="806.5" r="2.33" fill="#ff0000" fill-opacity="0.50" stroke="#ff0000" stroke-opacity="0.50" stroke-width="2.08"/>
<circle cx="519.5" cy="808.5" r="2.33" fill="#ff0000" fill-opacity="0.50" stroke="#ff0000" stroke-opacity="0.50" stroke-width="2.08"/>
<circle cx="467.5" cy="798.5" r="2.33" fill="#ff0000" fill-opacity="0.50" stroke="#ff0000" stroke-opacity="0.50" stroke-width="2.08"/>
<circle cx="473.5" cy="796.5" r="2.33" fill="#ff0000" fill-opacity="0.50" stroke="#ff0000" stroke-opacity="0.50" stroke-width="2.08"/>
<circle cx="460.5" cy="805.5" r="2.33" fill="#ff0000" fill-opacity="0.50" stroke="#ff0000" stroke-opacity="0.50" stroke-width="2.08"/>
<circle cx="489.5" cy="807.5" r="2.33" fill="#ff0000" fill-opacity="0.50" stroke="#ff0000" stroke-opacity="0.50" stroke-width="2.08"/>
<circle cx="448.5" cy="817.5" r="2.33" fill="#ff0000" fill-opacity="0.50" stroke="#ff0000" stroke-opacity="0.50" stroke-width="2.08"/>
<circle cx="504.5" cy="834.5" r="2.33" fill="#ff0000" fill-opacity="0.50" stroke="#ff0000" stroke-opacity="0.50" stroke-width="2.08"/>
<circle cx="538.5" cy="832.5" r="2.33" fill="#ff0000" fill-opacity="0.50" stroke="#ff0000" stroke-opacity="0.50" stroke-width="2.08"/>
<circle cx="567.5" cy="756.5" r="2.33" fill="#ff0000" fill-opacity="0.50" stroke="#ff0000" stroke-opacity="0.50" stroke-width="2.08"/>
<circle cx="541.5" cy="775.5" r="2.33" fill="#ff0000" fill-opacity="0.50" stroke="#ff0000" stroke-opacity="0.50" stroke-width="2.08"/>
<circle cx="560.5" cy="778.5" r="2.33" fill="#ff0000" fill-opacity="0.50" stroke="#ff0000" stroke-opacity="0.50" stroke-width="2.08"/>
<circle cx="542.5" cy="813.5" r="2.33" fill="#ff0000" fill-opacity="0.50" stroke="#ff0000" stroke-opacity="0.50" stroke-width="2.08"/>
<circle cx="594.5" cy="801.5" r="2.33" fill="#ff0000" fill-opacity="0.50" stroke="#ff0000" stroke-opacity="0.50" stroke-width="2.08"/>
<circle cx="606.5" cy="826.5" r="2.33" fill="#ff0000" fill-opacity="0.50" stroke="#ff0000" stroke-opacity="0.50" stroke-width="2.08"/>
<circle cx="583.5" cy="837.5" r="2.33" fill="#ff0000" fill-opacity="0.50" stroke="#ff0000" stroke-opacity="0.50" stroke-width="2.08"/>
<circle cx="604.5" cy="861.5" r="2.33" fill="#ff0000" fill-opacity="0.50" stroke="#ff0000" stroke-opacity="0.50" stroke-width="2.08"/>
<circle cx="610.5" cy="865.5" r="2.33" fill="#ff0000" fill-opacity="0.50" stroke="#ff0000" stroke-opacity="0.50" stroke-width="2.08"/>
<circle cx="611.5" cy="878.5" r="2.33" fill="#ff0000" fill-opacity="0.50" stroke="#ff0000" stroke-opacity="0.50" stroke-width="2.08"/>
<circle cx="642.5" cy="894.5" r="2.33" fill="#ff0000" fill-opacity="0.50" stroke="#ff0000" stroke-opacity="0.50" stroke-width="2.08"/>
<circle cx="667.5" cy="840.5" r="2.33" fill="#ff0000" fill-opacity="0.50" stroke="#ff0000" stroke-opacity="0.50" stroke-width="2.08"/>
<circle cx="676.5" cy="861.5" r="2.33" fill="#ff0000" fill-opacity="0.50" stroke="#ff0000" stroke-opacity="0.50" stroke-width="2.08"/>
<circle cx="680.5" cy="870.5" r="2.33" fill="#ff0000" fill-opacity="0.50" stroke="#ff0000" stroke-opacity="0.50" stroke-width="2.08"/>
<circle cx="676.5" cy="872.5" r="2.33" fill="#ff0000" fill-opacity="0.50" stroke="#ff0000" stroke-opacity="0.50" stroke-width="2.08"/>
<circle cx="766.5" cy="893.5" r="2.33" fill="#ff0000" fill-opacity="0.50" stroke="#ff0000" stroke-opacity="0.50" stroke-width="2.08"/>
</g>
<rect x="117.00" y="679.00" width="761.00" height="284.00" fill="none" stroke="#000" stroke-width="1.667"/>
<line x1="117.00" y1="963.00" x2="117.00" y2="970.29" stroke="#000" stroke-width="1.667"/>
<text x="110.37" y="993.60" font-size="21.80" textLength="13.25" lengthAdjust="spacingAndGlyphs">0</text>
<line x1="220.00" y1="963.00" x2="220.00" y2="970.29" stroke="#000" stroke-width="1.667"/>
<text x="200.12" y="993.60" font-size="21.80" textLength="39.76" lengthAdjust="spacingAndGlyphs">100</text>
<line x1="324.00" y1="963.00" x2="324.00" y2="970.29" stroke="#000" stroke-width="1.667"/>
<text x="304.12" y="993.60" font-size="21.80" textLength="39.76" lengthAdjust="spacingAndGlyphs">200</text>
<line x1="427.00" y1="963.00" x2="427.00" y2="970.29" stroke="#000" stroke-width="1.667"/>
<text x="407.12" y="993.60" font-size="21.80" textLength="39.76" lengthAdjust="spacingAndGlyphs">300</text>
<line x1="531.00" y1="963.00" x2="531.00" y2="970.29" stroke="#000" stroke-width="1.667"/>
<text x="511.12" y="993.60" font-size="21.80" textLength="39.76" lengthAdjust="spacingAndGlyphs">400</text>
<line x1="635.00" y1="963.00" x2="635.00" y2="970.29" stroke="#000" stroke-width="1.667"/>
<text x="615.12" y="993.60" font-size="21.80" textLength="39.76" lengthAdjust="spacingAndGlyphs">500</text>
<line x1="738.00" y1="963.00" x2="738.00" y2="970.29" stroke="#000" stroke-width="1.667"/>
<text x="718.12" y="993.60" font-size="21.80" textLength="39.76" lengthAdjust="spacingAndGlyphs">600</text>
<line x1="842.00" y1="963.00" x2="842.00" y2="970.29" stroke="#000" stroke-width="1.667"/>
<text x="822.12" y="993.60" font-size="21.80" textLength="39.76" lengthAdjust="spacingAndGlyphs">700</text>
<line x1="109.71" y1="753.00" x2="117.00" y2="753.00" stroke="#000" stroke-width="2" stroke-opacity="0.8333"/>
<text x="68.87" y="760.70" font-size="21.80" textLength="33.13" lengthAdjust="spacingAndGlyphs">0.0</text>
<line x1="109.71" y1="829.00" x2="117.00" y2="829.00" stroke="#000" stroke-width="2" stroke-opacity="0.8333"/>
<text x="51.42" y="836.70" font-size="21.80" textLength="50.58" lengthAdjust="spacingAndGlyphs">&#8722;0.5</text>
<line x1="109.71" y1="905.00" x2="117.00" y2="905.00" stroke="#000" stroke-width="2" stroke-opacity="0.8333"/>
<text x="51.42" y="912.70" font-size="21.80" textLength="50.58" lengthAdjust="spacingAndGlyphs">&#8722;1.0</text>
<text x="374.23" y="1021.60" font-size="21.80" textLength="69.84" lengthAdjust="spacingAndGlyphs">Radius</text>
<text x="450.69" y="1021.60" font-size="21.80" textLength="48.47" lengthAdjust="spacingAndGlyphs">from</text>
<text x="505.79" y="1021.60" font-size="21.80" textLength="66.56" lengthAdjust="spacingAndGlyphs">centre</text>
<text x="578.97" y="1021.60" font-size="21.80" textLength="41.80" lengthAdjust="spacingAndGlyphs">(px)</text>
<g transform="translate(37.90,917.84) rotate(-90)">
<text x="0.00" y="0" font-size="21.80" textLength="24.42" lengthAdjust="spacingAndGlyphs">Fit</text>
<text x="31.04" y="0" font-size="21.80" textLength="93.39" lengthAdjust="spacingAndGlyphs">residuals</text>
<text x="131.05" y="0" font-size="21.80" textLength="62.53" lengthAdjust="spacingAndGlyphs">(mag)</text>
</g>
</svg></body></html>
